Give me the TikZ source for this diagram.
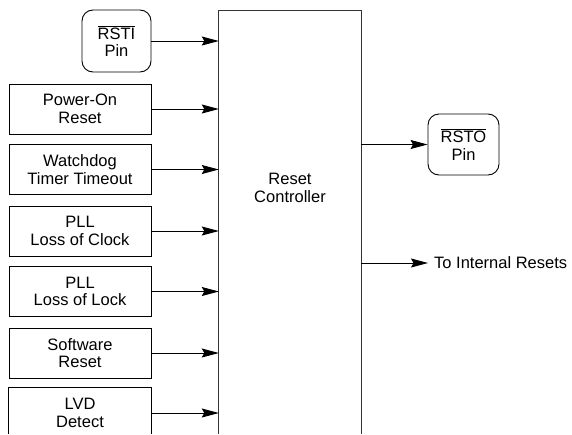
\documentclass[tikz,border=0pt]{standalone}
\usepackage{fontspec}
\setmainfont{Liberation Sans}
\usetikzlibrary{arrows.meta}
\begin{document}
\begin{tikzpicture}[x=1pt,y=-1pt,
  every node/.style={font=\fontsize{16.5}{17.5}\selectfont, align=center},
  srcbox/.style={draw, line width=0.9pt, minimum width=142pt, minimum height=50pt, inner sep=0pt},
  pinbox/.style={draw, line width=0.9pt, rounded corners=11pt, inner sep=0pt},
  arr/.style={line width=0.9pt, -{Stealth[length=17pt,width=9pt,inset=2.5pt]}}]
\useasboundingbox (0,0) rectangle (572,434);
\coordinate (bot) at (0,434);
% controller (open at bottom)
\node[minimum width=142pt, minimum height=423pt, inner sep=0pt] (ctrl) at (290,222.5) {};
\draw[line width=1.1pt, draw=black!80] (ctrl.south west) -- (ctrl.north west) -- (ctrl.north east) -- (ctrl.south east);
\node (ctrltext) at (290,188) {Reset\\Controller};
% inputs
\node[pinbox, minimum width=69pt, minimum height=62pt] (rsti) at (116.5,41) {$\overline{\hbox{RSTI}}$\\Pin};
\node[srcbox] (por) at (80,109) {Power-On\\Reset};
\node[srcbox] (wdt) at (80,169.5) {Watchdog\\Timer Timeout};
\node[srcbox] (loc) at (80,231) {PLL\\Loss of Clock};
\node[srcbox] (lol) at (80,291.5) {PLL\\Loss of Lock};
\node[srcbox] (sw) at (80,353) {Software\\Reset};
\node[srcbox, draw=none] (lvd) at (80,413) {LVD\\Detect};
\draw[line width=0.9pt] (lvd.north west |- bot) -- (lvd.north west) -- (lvd.north east) -- (lvd.north east |- bot);
\foreach \n in {rsti,por,wdt,loc,lol,sw,lvd}
  \draw[arr] (\n.east) -- (\n.east -| ctrl.west);
% outputs
\node[pinbox, minimum width=71pt, minimum height=61pt] (rsto) at (463.5,144.5) {$\overline{\hbox{RSTO}}$\\Pin};
\draw[arr] (rsto.west -| ctrl.east) -- (rsto.west);
\node[anchor=west, inner sep=0pt] (ir) at (434,263) {To Internal Resets};
\coordinate (irend) at (428,263);
\draw[arr] (irend -| ctrl.east) -- (irend);
\end{tikzpicture}
\end{document}
